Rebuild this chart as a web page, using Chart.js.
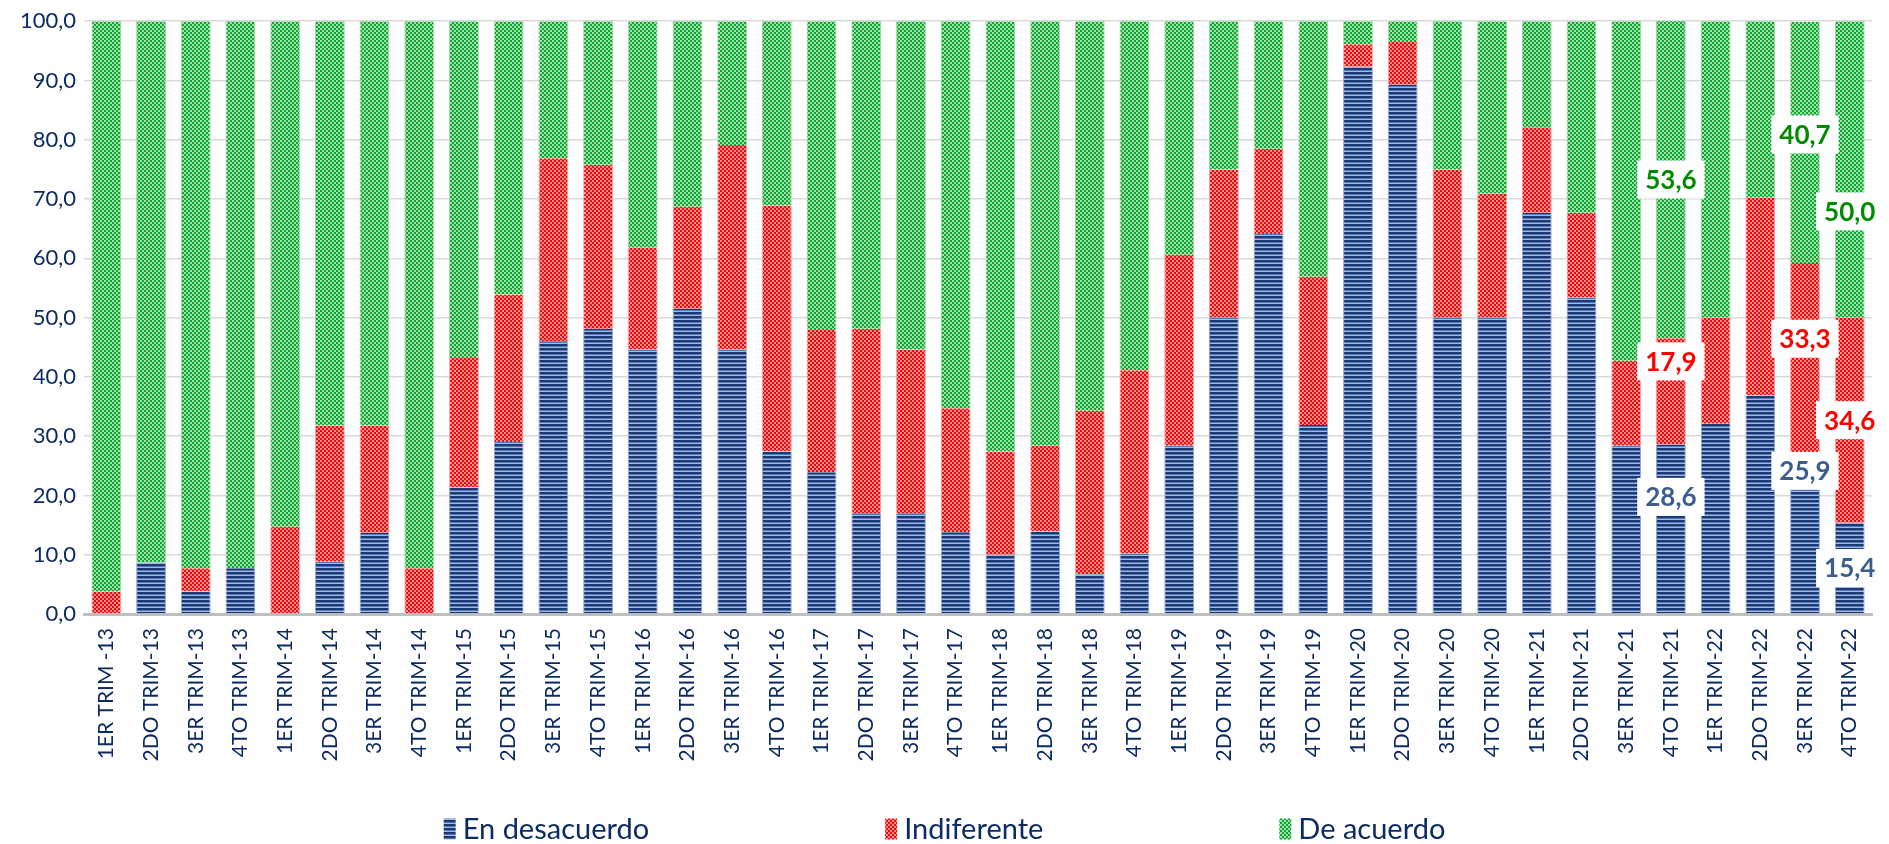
<!DOCTYPE html>
<html>
<head>
<meta charset="utf-8">
<title>Opinión trimestral</title>
<script src="https://cdn.jsdelivr.net/npm/chart.js@4"></script>
<style>
  html, body { margin: 0; padding: 0; background: #fff; }
</style>
</head>
<body>
<canvas id="chart" width="1889" height="844"></canvas>
<script>
// categories (quarters 2013 - 2022)
var labels = [
  '1ER TRIM -13', '2DO TRIM-13', '3ER TRIM-13', '4TO TRIM-13',
  '1ER TRIM-14', '2DO TRIM-14', '3ER TRIM-14', '4TO TRIM-14',
  '1ER TRIM-15', '2DO TRIM-15', '3ER TRIM-15', '4TO TRIM-15',
  '1ER TRIM-16', '2DO TRIM-16', '3ER TRIM-16', '4TO TRIM-16',
  '1ER TRIM-17', '2DO TRIM-17', '3ER TRIM-17', '4TO TRIM-17',
  '1ER TRIM-18', '2DO TRIM-18', '3ER TRIM-18', '4TO TRIM-18',
  '1ER TRIM-19', '2DO TRIM-19', '3ER TRIM-19', '4TO TRIM-19',
  '1ER TRIM-20', '2DO TRIM-20', '3ER TRIM-20', '4TO TRIM-20',
  '1ER TRIM-21', '2DO TRIM-21', '3ER TRIM-21', '4TO TRIM-21',
  '1ER TRIM-22', '2DO TRIM-22', '3ER TRIM-22', '4TO TRIM-22'
];

var desacuerdo = [
  0, 8.7, 3.8, 7.7,
  0, 8.8, 13.7, 0,
  21.4, 29.0, 46.0, 48.1,
  44.6, 51.5, 44.6, 27.4,
  23.9, 17.0, 17.0, 13.8,
  10.0, 13.9, 6.7, 10.2,
  28.4, 50.0, 64.1, 31.9,
  92.3, 89.3, 50.0, 50.0,
  67.7, 53.4, 28.4, 28.6,
  32.1, 36.9, 25.9, 15.4
];

var indiferente = [
  3.8, 0, 3.9, 0,
  14.7, 23.0, 18.1, 7.7,
  21.8, 24.9, 30.9, 27.7,
  17.2, 17.2, 34.5, 41.5,
  24.0, 31.1, 27.6, 20.9,
  17.4, 14.5, 27.6, 30.9,
  32.2, 25.0, 14.4, 25.0,
  3.8, 7.2, 25.0, 20.9,
  14.4, 14.3, 14.3, 17.9,
  17.9, 33.3, 33.3, 34.6
];

var deAcuerdo = [
  96.2, 91.3, 92.3, 92.3,
  85.3, 68.2, 68.2, 92.3,
  56.8, 46.1, 23.1, 24.2,
  38.2, 31.3, 20.9, 31.1,
  52.1, 51.9, 55.4, 65.3,
  72.6, 71.6, 65.7, 58.9,
  39.4, 25.0, 21.5, 43.1,
  3.9, 3.5, 25.0, 29.1,
  17.9, 32.3, 57.3, 53.6,
  50.0, 29.8, 40.7, 50.0
];

// bars that carry value labels in the original
var labeledBars = ['4TO TRIM-21', '3ER TRIM-22', '4TO TRIM-22'];

var navy = '#0C2B63';
var font = 'Lato';
Chart.defaults.font.family = font;

function makePattern(w, h, draw) {
  var c = document.createElement('canvas');
  c.width = w; c.height = h;
  var g = c.getContext('2d');
  draw(g);
  return g.createPattern(c, 'repeat');
}

// horizontal stripes
var bluePat = makePattern(1, 4, function (g) {
  g.fillStyle = '#1B3A73'; g.fillRect(0, 0, 1, 2);
  g.fillStyle = '#5376B8'; g.fillRect(0, 2, 1, 1);
  g.fillStyle = '#A3B9E0'; g.fillRect(0, 3, 1, 1);
});
// small checkers
function checker(a, b) {
  return makePattern(4, 4, function (g) {
    g.fillStyle = a; g.fillRect(0, 0, 4, 4);
    g.fillStyle = b; g.fillRect(0, 0, 2, 2); g.fillRect(2, 2, 2, 2);
  });
}
var redPat = checker('#EE0A0A', '#FF8F8F');
var greenPat = checker('#00A84A', '#ABDD92');

function fmt(v) {
  return v.toFixed(1).replace('.', ',');
}

// value labels: white box, bold coloured text (nudged like in the original)
var labelNudge = {
  '4TO TRIM-21': [-32, -30, 0],
  '3ER TRIM-22': [-66, -23, -8],
  '4TO TRIM-22': [0, 0, 42]
};
var labelColors = ['#3B5E91', '#FF0000', '#008C00'];

var valueLabels = {
  id: 'valueLabels',
  afterDatasetsDraw: function (chart) {
    var ctx = chart.ctx;
    ctx.save();
    ctx.font = 'bold 26px ' + font;
    ctx.textAlign = 'center';
    ctx.textBaseline = 'middle';
    chart.data.datasets.forEach(function (ds, d) {
      var meta = chart.getDatasetMeta(d);
      labeledBars.forEach(function (cat) {
        var i = chart.data.labels.indexOf(cat);
        var el = meta.data[i];
        var txt = fmt(ds.data[i]);
        var w = ctx.measureText(txt).width + 16;
        var h = 38;
        var cy = (el.y + el.base) / 2 + labelNudge[cat][d];
        ctx.fillStyle = '#fff';
        ctx.fillRect(el.x - w / 2, cy - h / 2, w, h);
        ctx.fillStyle = labelColors[d];
        ctx.fillText(txt, el.x, cy + 1);
      });
    });
    ctx.restore();
  }
};

// legend spread over the width like the Excel one
var spreadLegend = {
  id: 'spreadLegend',
  afterDraw: function (chart) {
    var ctx = chart.ctx;
    ctx.save();
    ctx.font = '29px ' + font;
    ctx.textBaseline = 'middle';
    var boxW = 12, boxH = 21, gap = 7, spacing = 236;
    var items = chart.data.datasets.map(function (ds) {
      return { text: ds.label, fill: ds.backgroundColor, w: ctx.measureText(ds.label).width };
    });
    var total = spacing * (items.length - 1);
    items.forEach(function (it) { total += boxW + gap + it.w; });
    var x = (chart.width - total) / 2;
    var y = 829;
    items.forEach(function (it) {
      ctx.fillStyle = it.fill;
      ctx.fillRect(x, y - boxH / 2, boxW, boxH);
      ctx.fillStyle = navy;
      ctx.fillText(it.text, x + boxW + gap, y + 1);
      x += boxW + gap + it.w + spacing;
    });
    ctx.restore();
  }
};

var side = { left: 1, right: 1, top: 0, bottom: 0 };

new Chart(document.getElementById('chart'), {
  type: 'bar',
  data: {
    labels: labels,
    datasets: [
      { label: 'En desacuerdo', data: desacuerdo, backgroundColor: bluePat, borderColor: '#8EA6D2', borderWidth: side, borderSkipped: false },
      { label: 'Indiferente', data: indiferente, backgroundColor: redPat, borderColor: '#F4A0A0', borderWidth: side, borderSkipped: false },
      { label: 'De acuerdo', data: deAcuerdo, backgroundColor: greenPat, borderColor: '#A6D39A', borderWidth: side, borderSkipped: false }
    ]
  },
  options: {
    responsive: false,
    animation: false,
    devicePixelRatio: 1,
    barPercentage: 0.667,
    categoryPercentage: 1,
    layout: { padding: { top: 21, right: 7, bottom: 80, left: 0 } },
    plugins: {
      legend: { display: false },
      tooltip: { enabled: false }
    },
    scales: {
      x: {
        stacked: true,
        grid: { display: false, drawTicks: false },
        border: { display: true, color: '#BFBFBF', width: 3 },
        ticks: {
          autoSkip: false,
          minRotation: 90,
          maxRotation: 90,
          padding: 14,
          color: navy,
          font: { size: 21 }
        },
        afterFit: function (s) { s.height = 150; }
      },
      y: {
        stacked: true,
        min: 0,
        max: 100,
        grid: { color: '#D9D9D9', lineWidth: 1.5, drawTicks: false },
        border: { display: false },
        ticks: {
          stepSize: 10,
          padding: 8,
          color: navy,
          font: { size: 22 },
          callback: function (v) { return fmt(v); }
        },
        afterFit: function (s) { s.width = 84; }
      }
    }
  },
  plugins: [valueLabels, spreadLegend]
});
</script>
</body>
</html>
